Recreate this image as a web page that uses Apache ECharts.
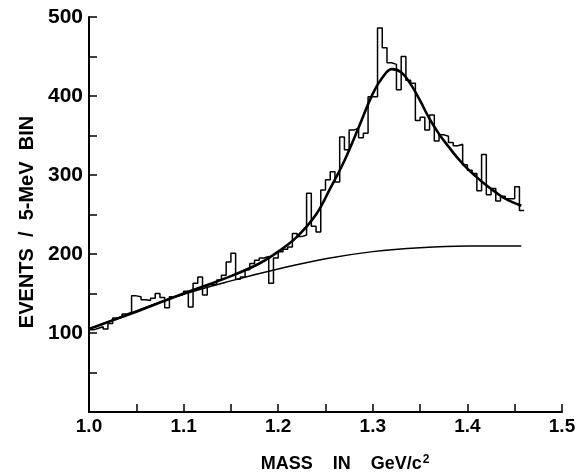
<!DOCTYPE html>
<html>
<head>
<meta charset="utf-8">
<script src="https://cdn.jsdelivr.net/npm/echarts@6/dist/echarts.min.js"></script>
<style>html,body{margin:0;padding:0;background:#fff}#c{width:588px;height:473px}</style>
</head>
<body>
<div id="c"></div>
<script>
// Histogram: 5-MeV bins starting at 1.000 GeV
const binStart = 1.000;
const binWidth = 0.005;
const counts = [
  104,106,108,105,112,119,120,124,126,147,
  146,142,141,144,150,145,132,146,147,149,
  153,133,163,171,148,161,162,167,173,190,
  201,168,171,180,188,192,195,197,163,195,
  203,206,209,226,222,224,277,235,228,281,
  294,304,291,348,332,357,359,347,353,399,
  399,486,461,442,440,408,450,420,416,369,
  373,357,376,343,351,349,341,337,339,313,
  306,302,280,326,275,283,267,273,270,270,
  285,255
];
// Fitted total curve (signal + background)
const fitMass = [1.00,1.05,1.10,1.15,1.18,1.20,1.22,1.24,1.255,1.27,1.285,1.30,1.31,1.32,1.33,1.34,1.35,1.36,1.37,1.38,1.39,1.40,1.41,1.42,1.43,1.44,1.457];
const fitVals = [105,127,150,172,188,203,222,250,283,318,360,403,423,434,430,415,394,371,352,336,321,308,297,287,278,270,261];
// Background curve
const bgMass = [1.00,1.05,1.10,1.15,1.20,1.25,1.30,1.35,1.40,1.457];
const bgVals = [105,128,149,166,181,194,203,208,210,210];

const xTicks = ['1.0','1.1','1.2','1.3','1.4','1.5'];
const yTicks = [100,200,300,400,500];

const histData = counts.map((v,i)=>[+(binStart+i*binWidth).toFixed(3), v]);
histData.push([+(binStart+counts.length*binWidth).toFixed(3), counts[counts.length-1]]);
const fitData = fitMass.map((m,i)=>[m, fitVals[i]]);
const bgData = bgMass.map((m,i)=>[m, bgVals[i]]);

const FONT = '"Liberation Sans", Arial, sans-serif';
const chart = echarts.init(document.getElementById('c'));
chart.setOption({
  animation:false,
  backgroundColor:'#fff',
  grid:{left:89, right:26, top:17, bottom:61},
  xAxis:{
    type:'value', min:1.0, max:1.5, interval:0.05,
    splitLine:{show:false},
    axisLine:{lineStyle:{color:'#000', width:2}},
    axisTick:{inside:true, length:8, lineStyle:{color:'#000', width:1.5}},
    axisLabel:{
      color:'#000', fontFamily:FONT, fontWeight:'bold', fontSize:19, margin:5,
      formatter:v=>{const k=Math.round(v*100); return k%10===0 ? xTicks[(k-100)/10] : '';}
    }
  },
  yAxis:{
    type:'value', min:0, max:500, interval:50,
    splitLine:{show:false},
    axisLine:{lineStyle:{color:'#000', width:2}},
    axisTick:{inside:true, length:8, lineStyle:{color:'#000', width:1.5}},
    axisLabel:{
      color:'#000', fontFamily:FONT, fontWeight:'bold', fontSize:21, margin:6,
      formatter:v=>yTicks.indexOf(Math.round(v))>=0 ? String(Math.round(v)) : ''
    }
  },
  graphic:[
    {type:'text', x:345, y:464, style:{
      text:'{m|MASS    IN    GeV/c}{s|2}', align:'center', verticalAlign:'middle',
      rich:{m:{fontFamily:FONT, fontWeight:'bold', fontSize:18, fill:'#000', lineHeight:20},
            s:{fontFamily:FONT, fontWeight:'bold', fontSize:12, fill:'#000', verticalAlign:'top', lineHeight:20, padding:[0,0,8,1]}}
    }},
    {type:'text', x:27, y:222, rotation:Math.PI/2, style:{
      text:'EVENTS  /  5-MeV  BIN', align:'center', verticalAlign:'middle',
      font:'bold 20px '+FONT, fill:'#000'
    }}
  ],
  series:[
    {type:'line', data:histData, step:'end', symbol:'none',
     lineStyle:{color:'#000', width:1.5}},
    {type:'line', data:bgData, smooth:0.4, symbol:'none',
     lineStyle:{color:'#000', width:1.5}},
    {type:'line', data:fitData, smooth:0.4, symbol:'none',
     lineStyle:{color:'#000', width:2.6}}
  ]
});
</script>
</body>
</html>
